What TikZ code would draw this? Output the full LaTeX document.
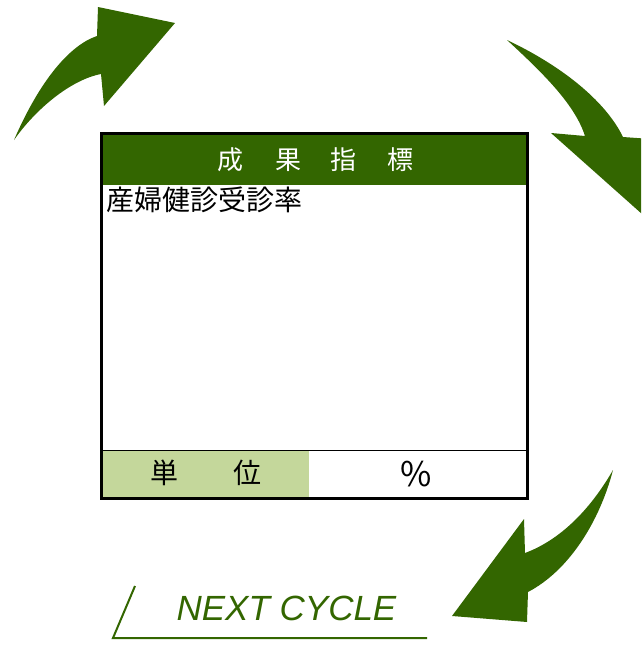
\documentclass[tikz,border=0pt]{standalone}
\usepackage{fontspec}
\newfontfamily\jpfont{Noto Sans CJK JP}
\newfontfamily\cyclefont{Liberation Sans}
\definecolor{leafgreen}{HTML}{336600}
\definecolor{palegreen}{HTML}{C4D79B}
\tikzset{
  cyclearrow/.style={fill=leafgreen, draw=none},
  jptext/.style={inner sep=0pt, font=\jpfont\fontsize{26}{26}\selectfont}
}
\begin{document}
\begin{tikzpicture}[x=1pt,y=-1pt]
  \useasboundingbox (0,0) rectangle (641,646);
  \clip (0,0) rectangle (641,646);

  \fill[leafgreen] (101.5,133.5) rectangle (527.5,185);
  \fill[palegreen] (101.5,450) rectangle (308.5,498);
  \draw[line width=1] (101.5,450) -- (527.5,450);
  \draw[line width=3] (101.5,133.5) rectangle (527.5,498);

  \foreach \c/\x [count=\i] in {成/230,果/288,指/343,標/400}
  {
    \node[jptext, text=white] (head\i) at (\x,160) {\c};
  }
  \node[jptext, anchor=west, font=\jpfont\fontsize{28}{28}\selectfont] (item) at (106,200) {産婦健診受診率};
  \node[jptext, font=\jpfont\fontsize{28}{28}\selectfont] (unit1) at (164,473) {単};
  \node[jptext, font=\jpfont\fontsize{28}{28}\selectfont] (unit2) at (247,473) {位};
  \node[jptext, font=\jpfont\fontsize{34}{34}\selectfont] (pct) at (416,474) {\%};

  \fill[cyclearrow] (14,140) .. controls (40,80) and (70,45) .. (97,36)
    -- (98,7) -- (175,23) -- (104,106) -- (101,74)
    .. controls (70,80) and (35,110) .. (14,140) -- cycle;
  \fill[cyclearrow] (507,40) .. controls (560,65) and (605,100) .. (623,137)
    -- (665,140) -- (660,230) -- (551,133) -- (585,136)
    .. controls (575,105) and (545,75) .. (507,40) -- cycle;
  \fill[cyclearrow] (613,470) .. controls (590,510) and (560,540) .. (525,553)
    -- (524,519) -- (452,616) -- (527,622) -- (528,592)
    .. controls (570,570) and (600,520) .. (613,470) -- cycle;

  \node[inner sep=0pt, anchor=base, text=leafgreen,
    font=\cyclefont\itshape\fontsize{35}{35}\selectfont] (next) at (286.5,620) {NEXT CYCLE};
  \draw[leafgreen, line width=2] (135,586) -- (113,638) -- (427,638);

\end{tikzpicture}
\end{document}
